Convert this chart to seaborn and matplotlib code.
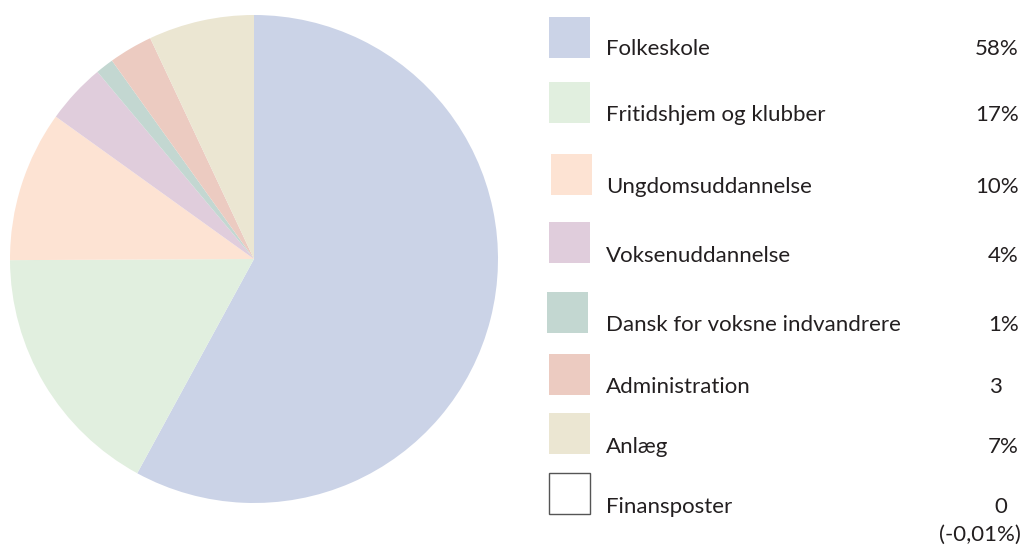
import matplotlib
matplotlib.use("Agg")
import matplotlib.pyplot as plt
import seaborn as sns
from matplotlib.patches import Rectangle

sns.set_theme(style="white")
plt.rcParams['font.family'] = ['Lato', 'DejaVu Sans']

# data
categories = ["Folkeskole", "Fritidshjem og klubber", "Ungdomsuddannelse",
              "Voksenuddannelse", "Dansk for voksne indvandrere",
              "Administration", "Anlæg", "Finansposter"]
shares = [58, 17, 10, 4, 1.2, 2.9, 7, 0]
share_labels = ["58%", "17%", "10%", "4%", "1%", "3", "7%", "0"]
colors = ["#cbd3e7", "#e1efdf", "#fde3d3", "#e0cddc", "#c3d7d1",
          "#eccbc1", "#ebe6d2", "#ffffff"]

W, H = 1029, 547
fig = plt.figure(figsize=(W / 100, H / 100), dpi=100)

# pie
cx, cy, r = 254, 259, 244
ax = fig.add_axes([(cx - r) / W, (H - cy - r) / H, 2 * r / W, 2 * r / H])
ax.pie(shares[:-1], colors=colors[:-1], startangle=90, counterclock=False,
       radius=1, wedgeprops=dict(linewidth=0))
ax.set_xlim(-1, 1)
ax.set_ylim(-1, 1)
ax.set_aspect("equal")
ax.axis("off")

# legend drawn in pixel coordinates
lg = fig.add_axes([0, 0, 1, 1])
lg.set_xlim(0, W)
lg.set_ylim(H, 0)
lg.axis("off")
lg.patch.set_alpha(0)

swatch_top = [17, 82, 154, 222, 292, 354, 413, 473]
swatch_x = [549, 549, 551, 549, 547, 549, 549, 549]
text_y = [49, 115, 187, 256, 325, 387, 447, 507]
pct_right = [1019, 1019, 1019, 1019, 1019, 1002, 1019, 1007]
txt_color = "#231f20"
fs = 16

for i, name in enumerate(categories):
    edge = "#555555" if colors[i] == "#ffffff" else "none"
    lg.add_patch(Rectangle((swatch_x[i], swatch_top[i]), 41, 41,
                           facecolor=colors[i], edgecolor=edge, linewidth=1))
    lg.text(606, text_y[i], name, fontsize=fs, color=txt_color,
            va="center", ha="left")
    lg.text(pct_right[i], text_y[i], share_labels[i], fontsize=fs,
            color=txt_color, va="center", ha="right")

lg.text(1021, 535, "(-0,01%)", fontsize=fs, color=txt_color,
        va="center", ha="right")

fig.savefig("out.png", dpi=100)
